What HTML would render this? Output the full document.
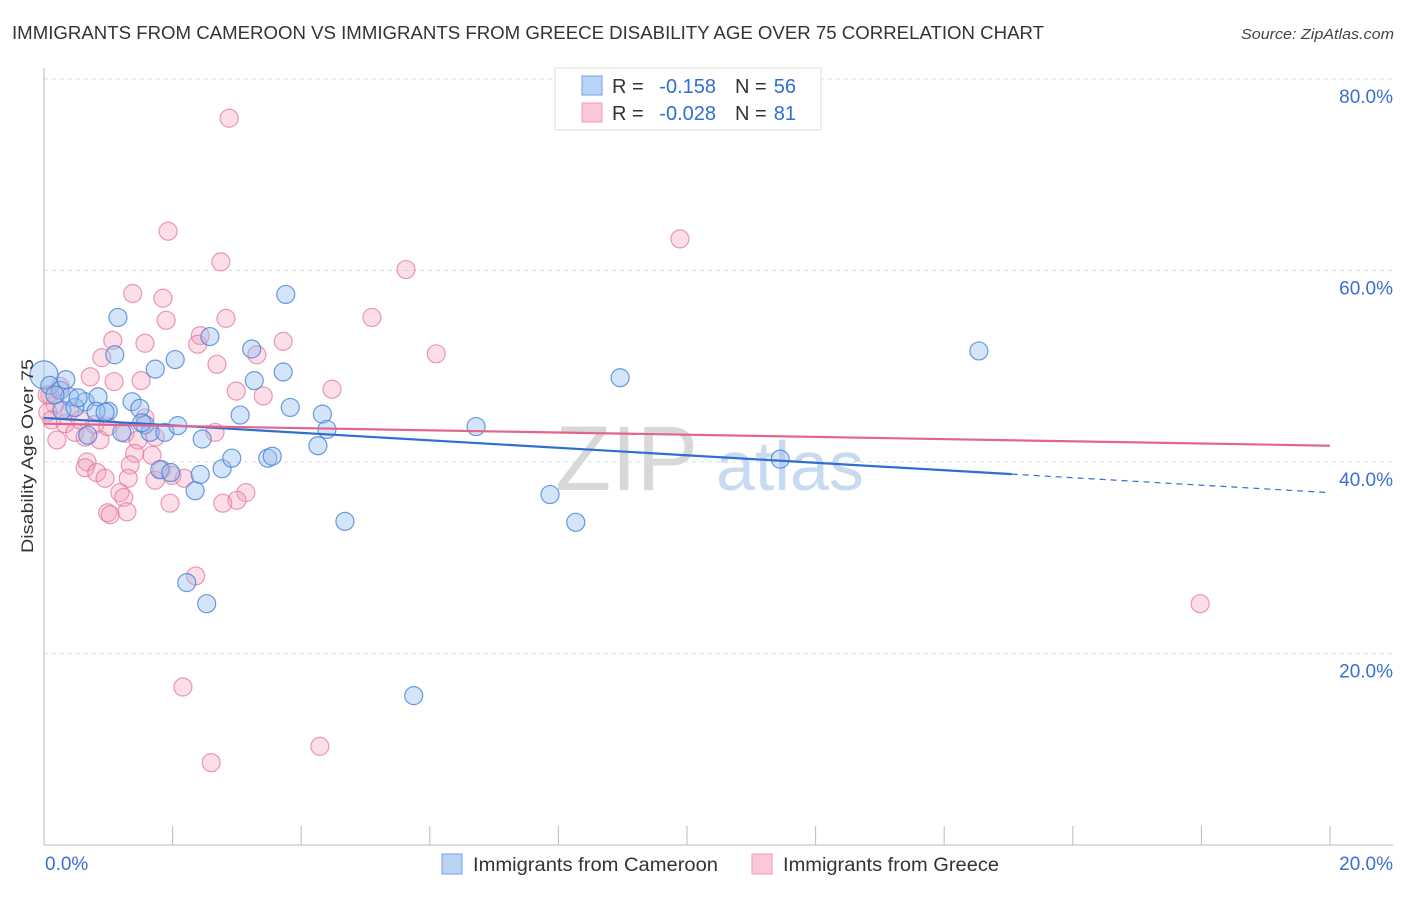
<!DOCTYPE html>
<html><head><meta charset="utf-8"><style>
body{margin:0;background:#fff;font-family:"Liberation Sans",sans-serif;}
svg text{font-family:"Liberation Sans",sans-serif;}
</style></head><body>
<svg id="chart" width="1406" height="892" xmlns="http://www.w3.org/2000/svg">
<text x="12" y="39" font-size="18" fill="#333" textLength="1032" lengthAdjust="spacingAndGlyphs">IMMIGRANTS FROM CAMEROON VS IMMIGRANTS FROM GREECE DISABILITY AGE OVER 75 CORRELATION CHART</text>
<text x="1241" y="39" font-size="15" fill="#444" font-style="italic" textLength="153" lengthAdjust="spacingAndGlyphs">Source: ZipAtlas.com</text>
<g>
<text x="555" y="490" font-size="92" fill="#d8d8d8" font-family="Liberation Serif,serif">ZIP</text>
<text x="716" y="490" font-size="70" fill="#c8daf2">atlas</text>
</g>
<g id="grid"></g>
<g id="axes"></g>
<g id="marks"></g>
<g id="trends"></g>
<text transform="translate(33,456) rotate(-90)" font-size="17" fill="#333" text-anchor="middle" textLength="194" lengthAdjust="spacingAndGlyphs">Disability Age Over 75</text>
<g>
<rect x="555" y="68" width="266" height="62" fill="#fff" stroke="#ddd"/>
<rect x="582" y="76" width="20" height="19" fill="#b8d3f5" stroke="#6d9fe3"/>
<rect x="582" y="103" width="20" height="19" fill="#fcc8d7" stroke="#ee9bb5"/>
<text x="612" y="93" font-size="20" fill="#333">R =</text>
<text x="716" y="93" font-size="20" fill="#2f6fd0" text-anchor="end">-0.158</text>
<text x="735" y="93" font-size="20" fill="#333">N =</text>
<text x="796" y="93" font-size="20" fill="#2f6fd0" text-anchor="end">56</text>
<text x="612" y="120" font-size="20" fill="#333">R =</text>
<text x="716" y="120" font-size="20" fill="#2f6fd0" text-anchor="end">-0.028</text>
<text x="735" y="120" font-size="20" fill="#333">N =</text>
<text x="796" y="120" font-size="20" fill="#2f6fd0" text-anchor="end">81</text>
</g>
<g>
<rect x="442" y="854" width="20" height="20" fill="#b8d3f5" stroke="#6d9fe3"/>
<text x="473" y="871" font-size="19" fill="#333" textLength="245" lengthAdjust="spacingAndGlyphs">Immigrants from Cameroon</text>
<rect x="752" y="854" width="20" height="20" fill="#fcc8d7" stroke="#ee9bb5"/>
<text x="783" y="871" font-size="19" fill="#333" textLength="216" lengthAdjust="spacingAndGlyphs">Immigrants from Greece</text>
</g>
</svg>
<script>
const cameroonX=[0,0.09,0.25,0.4,0.17,0.64,0.84,1.0,1.15,1.1,0.68,1.21,1.37,1.49,1.57,1.65,1.73,1.88,2.04,2.08,1.8,1.97,2.22,2.35,2.43,2.46,2.53,2.58,2.77,2.92,3.05,3.23,3.27,3.48,3.55,3.72,3.76,3.83,4.26,4.33,4.4,4.68,5.75,6.72,7.87,8.27,8.96,11.45,14.54,0.28,0.48,0.81,0.95,1.52,0.34,0.53];
const cameroonY=[49.1,48.0,47.5,46.8,47.0,46.3,46.8,45.3,55.1,51.2,42.8,43.1,46.3,45.6,43.9,43.1,49.7,43.1,50.7,43.8,39.2,38.9,27.4,37.0,38.7,42.4,25.2,53.1,39.3,40.4,44.9,51.8,48.5,40.4,40.6,49.4,57.5,45.7,41.7,45.0,43.4,33.8,15.6,43.7,36.6,33.7,48.8,40.3,51.6,45.4,45.7,45.3,45.2,44.1,48.6,46.7];
const greeceX=[2.88,1.93,9.89,2.75,5.63,1.38,1.85,1.9,2.83,5.1,2.43,1.07,1.57,2.39,3.72,0.9,3.31,6.1,2.69,1.51,0.72,1.09,2.99,4.48,3.41,0.25,0.09,0.17,0.06,0.12,0.33,0.4,0.48,0.56,0.64,0.79,0.87,0.99,1.26,1.57,1.73,2.66,1.46,1.68,1.41,0.67,0.64,0.82,0.95,1.34,1.31,1.73,1.83,1.99,2.18,1.18,1.24,3.14,3.0,2.78,1.96,0.99,1.03,1.29,2.36,2.16,2.6,4.29,17.98,0.2,0.05];
const greeceY=[75.9,64.1,63.3,60.9,60.1,57.6,57.1,54.8,55.0,55.1,53.2,52.7,52.4,52.3,52.6,50.9,51.2,51.3,50.2,48.5,48.9,48.4,47.4,47.6,46.9,47.9,47.0,46.0,45.2,44.4,44.0,45.3,43.1,44.4,42.6,43.9,42.3,43.7,43.0,44.6,42.6,43.1,42.3,40.7,40.9,40.0,39.4,38.9,38.3,39.7,38.3,38.1,39.2,38.6,38.3,36.8,36.3,36.8,36.0,35.7,35.7,34.7,34.5,34.8,28.1,16.5,8.6,10.3,25.2,42.3,47.0];
const yTicks=[20,40,60,80];
const yTickLabels=["20.0%","40.0%","60.0%","80.0%"];
const xTicks=[0,2,4,6,8,10,12,14,16,18,20];
const trendCameroon=[44.6,36.8];
const trendGreece=[44.0,41.7];
const NS="http://www.w3.org/2000/svg";
const X0=44,X1=1330,Y0=845,Y80=79;
const sx=v=>X0+(v/20)*(X1-X0);
const sy=v=>Y0-(v/80)*(Y0-Y80);
function mk(tag,attrs,parent){const e=document.createElementNS(NS,tag);for(const k in attrs)e.setAttribute(k,attrs[k]);parent.appendChild(e);return e;}
const grid=document.getElementById('grid'),axes=document.getElementById('axes'),marks=document.getElementById('marks'),trends=document.getElementById('trends');
yTicks.forEach((t,i)=>{
 const l=mk('line',{x1:44,x2:1393,y1:sy(t),y2:sy(t),stroke:'#ddd','stroke-dasharray':'4,4'},grid);
 
 
 const tx=mk('text',{x:1393,y:sy(t)+24,'font-size':19,fill:'#3b6fcf','text-anchor':'end'},grid);
 tx.textContent=yTickLabels[i];
 
 
});
const ya=mk('line',{x1:44,x2:44,y1:68,y2:845,stroke:'#bbb'},axes);


const xa=mk('line',{x1:44,x2:1393,y1:845,y2:845,stroke:'#bbb'},axes);


xTicks.forEach(t=>{
 const l=mk('line',{x1:sx(t),x2:sx(t),y1:826,y2:845,stroke:'#bbb'},axes);
 
 
});
const xl0=mk('text',{x:45,y:870,'font-size':19,fill:'#3b6fcf'},axes);xl0.textContent='0.0%';


const xl1=mk('text',{x:1393,y:870,'font-size':19,fill:'#3b6fcf','text-anchor':'end'},axes);xl1.textContent='20.0%';


greeceX.forEach((v,i)=>{
 const c=mk('circle',{cx:sx(v),cy:sy(greeceY[i]),r:9,fill:'rgba(244,160,188,0.35)',stroke:'rgba(228,120,158,0.75)','stroke-width':1.2},marks);
 
 
});
cameroonX.forEach((v,i)=>{
 const c=mk('circle',{cx:sx(v),cy:sy(cameroonY[i]),r:i===0?14:9,fill:'rgba(150,190,240,0.4)',stroke:'rgba(70,130,215,0.8)','stroke-width':1.2},marks);
 
 
});
const cy=x=>trendCameroon[0]+(trendCameroon[1]-trendCameroon[0])*x/20;
const tb=mk('line',{x1:sx(0),y1:sy(cy(0)),x2:sx(15.05),y2:sy(cy(15.05)),stroke:'#2f6fd0','stroke-width':2.2},trends);


const tbd=mk('line',{x1:sx(15.05),y1:sy(cy(15.05)),x2:sx(20),y2:sy(cy(20)),stroke:'#2f6fd0','stroke-width':1.2,'stroke-dasharray':'6,5'},trends);


const tp=mk('line',{x1:sx(0),y1:sy(trendGreece[0]),x2:sx(20),y2:sy(trendGreece[1]),stroke:'#e0668f','stroke-width':2.2},trends);


</script>
</body></html>
